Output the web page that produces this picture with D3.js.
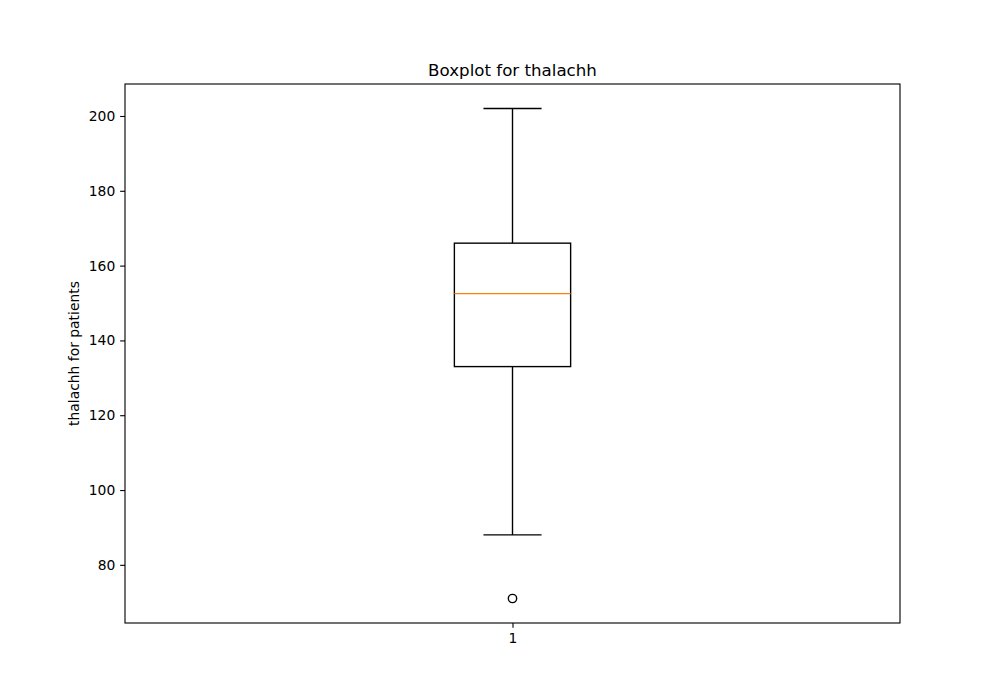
<!DOCTYPE html>
<html><head><meta charset="utf-8">
<script src="https://cdn.jsdelivr.net/npm/d3@7"></script>
<style>body{margin:0;background:#fff;} text{font-family:"DejaVu Sans",sans-serif;}</style>
</head><body><svg id="c" width="1000" height="700"></svg>
<script>
const categories = ["1"];
const whiskerLow = [88];
const q1 = [133];
const median = [152.5];
const q3 = [166];
const whiskerHigh = [202];
const outliers = [[71]];
const yTicks = [80, 100, 120, 140, 160, 180, 200];

const svg = d3.select("#c");
const L = 125, R = 900, T = 84, B = 623;
const y = d3.scaleLinear().domain([64.45, 208.55]).range([B, T]);
const x = d3.scaleLinear().domain([0.5, 1.5]).range([L, R]);
svg.append("rect").attr("width",1000).attr("height",700).attr("fill","#fff");

const lw = 1.39;
const g = svg.append("g");
categories.forEach((c, i) => {
  const pos = i + 1, hw = 0.075, cw = 0.0375;
  const cx = x(pos);
  const line = (x1,x2,y1,y2,col) => g.append("line").attr("x1",x1).attr("x2",x2).attr("y1",y1).attr("y2",y2).attr("stroke",col||"#000").attr("stroke-width",lw);
  line(cx,cx,y(q1[i]),y(whiskerLow[i]));
  line(cx,cx,y(q3[i]),y(whiskerHigh[i]));
  line(x(pos-cw),x(pos+cw),y(whiskerLow[i]),y(whiskerLow[i]));
  line(x(pos-cw),x(pos+cw),y(whiskerHigh[i]),y(whiskerHigh[i]));
  g.append("rect").attr("x",x(pos-hw)).attr("y",y(q3[i])).attr("width",x(pos+hw)-x(pos-hw)).attr("height",y(q1[i])-y(q3[i])).attr("fill","none").attr("stroke","#000").attr("stroke-width",lw);
  line(x(pos-hw),x(pos+hw),y(median[i]),y(median[i]),"#ff7f0e");
  outliers[i].forEach(v => {
    g.append("circle").attr("cx",cx).attr("cy",y(v)).attr("r",4.17).attr("fill","none").attr("stroke","#000").attr("stroke-width",lw);
  });
});

const ya = svg.append("g").attr("transform",`translate(${L},0)`).call(d3.axisLeft(y).tickValues(yTicks).tickSize(4.86).tickPadding(4.86));
const xa = svg.append("g").attr("transform",`translate(0,${B})`).call(d3.axisBottom(x).tickValues([1]).tickFormat((d,i)=>categories[i]).tickSize(4.86).tickPadding(4.86));
[ya, xa].forEach(a => { a.select(".domain").remove(); a.selectAll("text").attr("font-size","13.89px").attr("fill","#000").style("font-family","DejaVu Sans"); a.selectAll("line").attr("stroke","#000").attr("stroke-width",1.11); });
svg.append("rect").attr("x",L).attr("y",T).attr("width",R-L).attr("height",B-T).attr("fill","none").attr("stroke","#000").attr("stroke-width",1.11);

svg.append("text").attr("x",(L+R)/2).attr("y",T-8.3).attr("text-anchor","middle").attr("font-size","16.67px").text("Boxplot for thalachh");
svg.append("text").attr("transform",`translate(79,${(T+B)/2}) rotate(-90)`).attr("text-anchor","middle").attr("font-size","13.89px").text("thalachh for patients");
</script></body></html>
